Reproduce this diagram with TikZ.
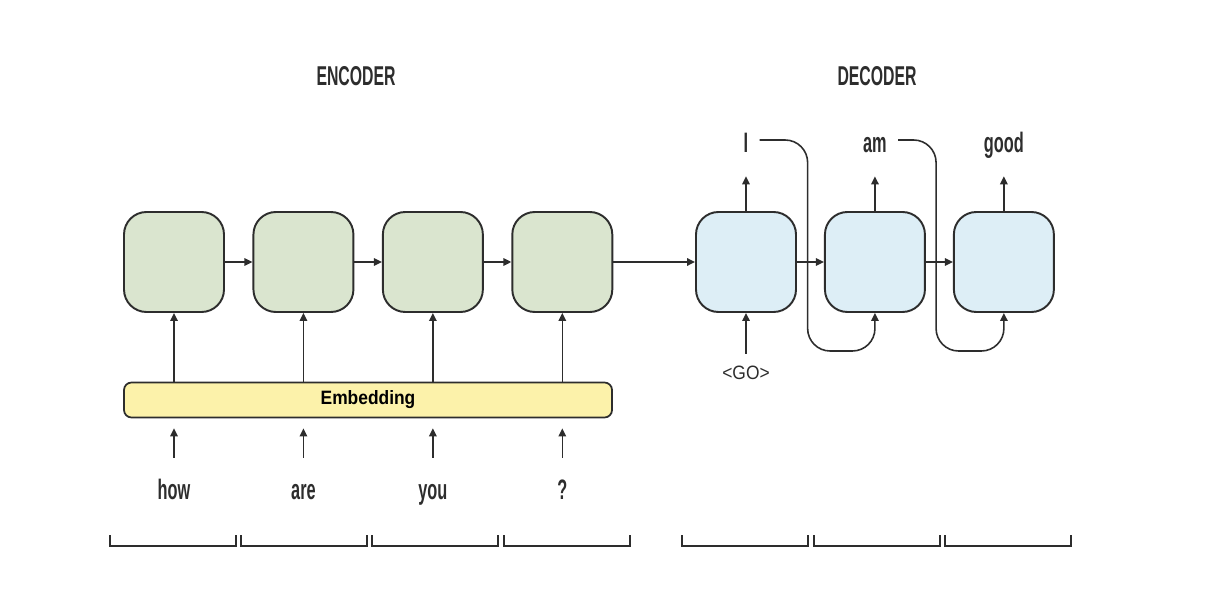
\documentclass[tikz,border=0pt]{standalone}
\usepackage{fontspec}
\setmainfont{Liberation Sans}
\newfontfamily\condfont[FakeStretch=0.58]{Liberation Sans}
\newfontfamily\embfont[FakeStretch=0.9]{Liberation Sans}
\usepackage{tikz}
\usetikzlibrary{positioning,calc,arrows.meta}
\usepackage{xcolor}
\definecolor{encfill}{RGB}{218, 229, 207}
\definecolor{decfill}{RGB}{221, 238, 246}
\definecolor{embfill}{RGB}{252, 242, 170}
\definecolor{edgegray}{RGB}{45, 45, 45}

\begin{document}
\begin{tikzpicture}[
    enc/.style={draw=edgegray, line width=1.1pt, fill=encfill, rounded corners=0.45cm, minimum width=2cm, minimum height=2cm},
    dec/.style={draw=edgegray, line width=1.1pt, fill=decfill, rounded corners=0.45cm, minimum width=2cm, minimum height=2cm},
    embed/.style={draw=edgegray, line width=1pt, fill=embfill, rounded corners=0.15cm, minimum width=9.76cm, minimum height=0.7cm, font=\embfont\bfseries\fontsize{11}{13}\selectfont},
    word/.style={font=\condfont\bfseries\fontsize{16}{18}\selectfont, text height=0.42cm, text depth=0.1cm, inner sep=0pt, text=edgegray},
    title/.style={font=\condfont\bfseries\fontsize{15.5}{18}\selectfont, text=edgegray},
    arr/.style={-{Triangle[length=1.6mm, width=1.5mm]}, line width=0.9pt, edgegray},
    brk/.style={line width=1pt, edgegray}
]
    \useasboundingbox (0,0) rectangle (24.2,12.12);

    % Titles
    \node[title] (enct) at (7.12,10.6) {ENCODER};
    \node[title] (dect) at (17.54,10.6) {DECODER};

    % Encoder cells
    \node[enc] (e1) at (3.48,6.88) {};
    \node[enc, right=0.55cm of e1] (e2) {};
    \node[enc, right=0.55cm of e2] (e3) {};
    \node[enc, right=0.55cm of e3] (e4) {};

    % Decoder cells
    \node[dec] (d1) at (14.92,6.88) {};
    \node[dec, right=0.54cm of d1] (d2) {};
    \node[dec, right=0.54cm of d2] (d3) {};

    % Embedding
    \node[embed] (emb) at (7.36,4.12) {\raisebox{-0.6mm}{Embedding}};

    % Input words
    \node[word] (w1) at (e1 |- 0,2.3) {how};
    \node[word] (w2) at (e2 |- 0,2.3) {are};
    \node[word] (w3) at (e3 |- 0,2.3) {you};
    \node[word] (w4) at (e4 |- 0,2.3) {?};

    % Output words
    \node[word] (o1) at (d1 |- 0,9.22) {I};
    \node[word] (o2) at (d2 |- 0,9.22) {am};
    \node[word] (o3) at (d3 |- 0,9.22) {good};
    \node[font=\embfont\fontsize{11}{13}\selectfont, text=edgegray] (go) at (d1 |- 0,4.66) {<GO>};

    % Recurrent edges
    \draw[arr] (e1) -- (e2);
    \draw[arr] (e2) -- (e3);
    \draw[arr] (e3) -- (e4);
    \draw[arr] (e4) -- (d1);
    \draw[arr] (d1) -- (d2);
    \draw[arr] (d2) -- (d3);

    % Embedding to cells, words to embedding
    \foreach \n in {1,...,4} {
        \draw[arr] (e\n |- emb.north) -- (e\n.south);
        \draw[arr] ([yshift=0.4cm]w\n.north) -- ([yshift=-0.2cm]w\n |- emb.south);
    }

    % Decoder inputs and outputs
    \draw[arr] ([yshift=0.12cm]go.north) -- (d1.south);
    \foreach \n in {1,2,3}
        \draw[arr] (d\n.north) -- ([yshift=-0.36cm]o\n.south);

    % Feedback of outputs
    \draw[arr, rounded corners=0.45cm] ([xshift=0.22cm, yshift=0.1cm]o1.east) -| ++(0.96,-4.22) -| (d2.south);
    \draw[arr, rounded corners=0.45cm] ([xshift=0.22cm, yshift=0.1cm]o2.east) -| ++(0.76,-4.22) -| (d3.south);

    % Brackets under the steps
    \foreach \x in {3.46,6.08,8.7,11.34,14.9,17.54,20.16}
        \draw[brk] (\x-1.26,1.42) |- (\x+1.26,1.2) -- ++(0,0.22);
\end{tikzpicture}
\end{document}
